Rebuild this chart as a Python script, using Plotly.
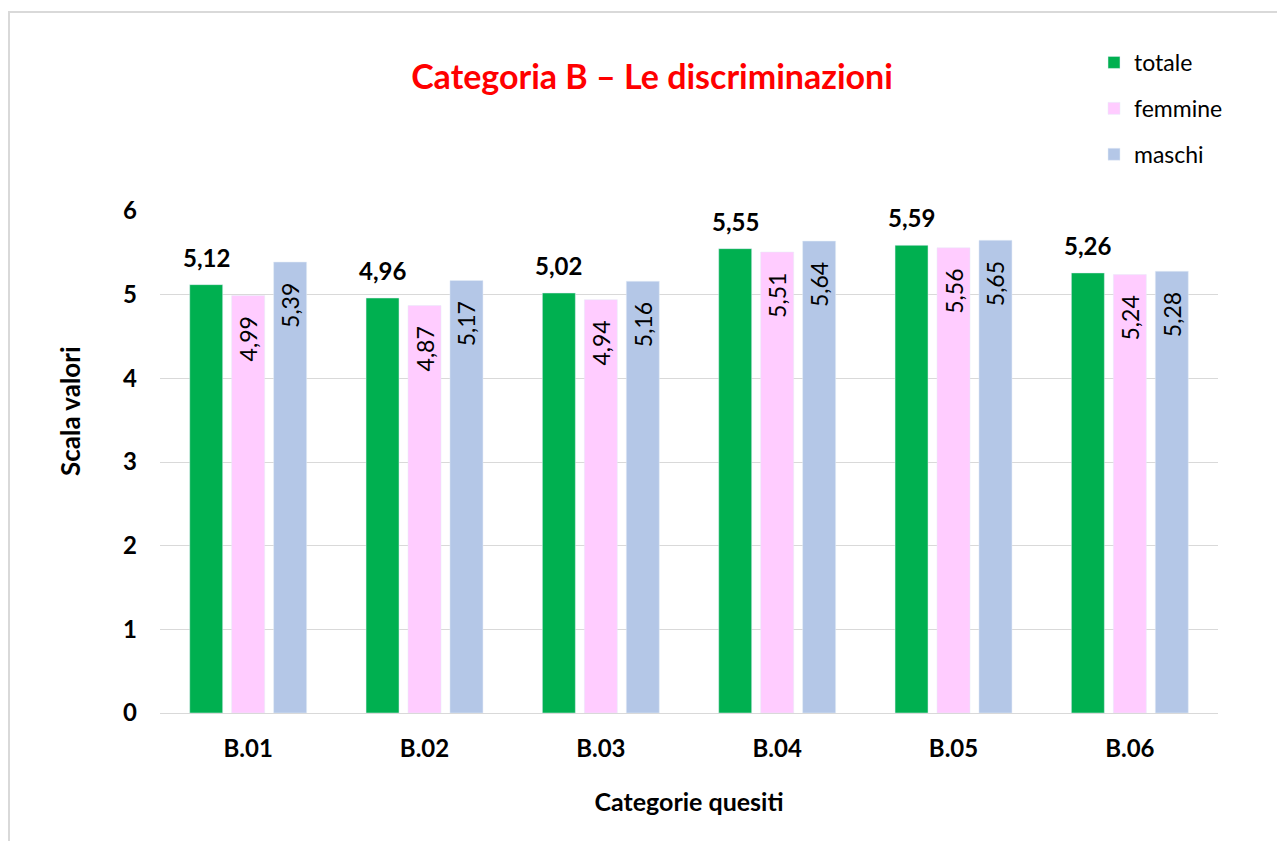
import plotly.graph_objects as go

categories = ["B.01", "B.02", "B.03", "B.04", "B.05", "B.06"]
totale = [5.12, 4.96, 5.02, 5.55, 5.59, 5.26]
femmine = [4.99, 4.87, 4.94, 5.51, 5.56, 5.24]
maschi = [5.39, 5.17, 5.16, 5.64, 5.65, 5.28]

FONT = "Lato, 'Open Sans', sans-serif"
W, H = 1285, 841
OFF = 8  # page body margin
L, R, T, B = 152, 75, 203, 136
pw, ph = W - L - R, H - T - B
PAD = "\u00a0\u00a0\u00a0"

fig = go.Figure()
fig.add_trace(go.Bar(
    x=categories, y=totale, name="totale", marker_color="#00B050",
    legendgroup="a"))
fig.add_trace(go.Bar(
    x=categories, y=femmine, name="femmine", marker_color="#FFCCFF",
    texttemplate="%{y:.2f}" + PAD, textposition="inside", textangle=-90,
    insidetextanchor="end", constraintext="none",
    textfont=dict(size=23, color="black", family=FONT),
    legendgroup="b"))
fig.add_trace(go.Bar(
    x=categories, y=maschi, name="maschi", marker_color="#B4C7E7",
    texttemplate="%{y:.2f}" + PAD, textposition="inside", textangle=-90,
    insidetextanchor="end", constraintext="none",
    textfont=dict(size=23, color="black", family=FONT),
    legendgroup="c"))

# value labels above the "totale" bars
for c, v in zip(categories, totale):
    fig.add_annotation(x=c, y=v, xref="x", yref="y", xshift=-42, yshift=11,
                       text="<b>" + f"{v:.2f}".replace(".", ",") + "</b>",
                       showarrow=False, yanchor="bottom", xanchor="center",
                       font=dict(size=24, color="black", family=FONT))

def px(xp):
    return (xp - OFF - L) / pw

def py(yp):
    return (H - B - (yp - OFF)) / ph

fig.add_shape(type="rect", xref="paper", yref="paper",
              x0=px(9), x1=px(1310), y0=py(870), y1=py(12),
              line=dict(color="#D9D9D9", width=2), fillcolor="rgba(0,0,0,0)", layer="below")

# y-axis title
fig.add_annotation(x=px(70), y=py(411), xref="paper", yref="paper",
                   text="<b>Scala valori</b>", textangle=-90, showarrow=False,
                   xanchor="center", yanchor="middle",
                   font=dict(size=26, color="black", family=FONT))

fig.update_layout(
    width=W, height=H,
    margin=dict(l=L, r=R, t=T, b=B),
    paper_bgcolor="white", plot_bgcolor="white",
    separators=",.",
    font=dict(family=FONT, color="black"),
    barmode="group", bargap=0.286, bargroupgap=0.214,
    title=dict(text="<b>Categoria B – Le discriminazioni</b>", x=px(652), xref="paper",
               xanchor="center", y=1 - (77 - OFF) / H, yanchor="middle",
               font=dict(size=34, color="#FF0000", family=FONT)),
    legend=dict(x=px(1094), y=py(41), xanchor="left", yanchor="top",
                font=dict(size=23, family=FONT), tracegroupgap=13,
                itemwidth=30, bgcolor="rgba(0,0,0,0)"),
    xaxis=dict(title=dict(text="<b>Categorie quesiti</b>", font=dict(size=25), standoff=32),
               tickfont=dict(size=24), tickprefix="<b>", ticksuffix="</b>",
               showline=True, linecolor="#D9D9D9", linewidth=1,
               ticks="", ticklabelstandoff=14),
    yaxis=dict(range=[0, 6], dtick=1, tickfont=dict(size=24),
               tickprefix="<b>", ticksuffix="</b>",
               showgrid=True, gridcolor="#D9D9D9", gridwidth=1,
               zeroline=False, ticks="", ticklabelstandoff=22),
)

fig.write_html("out.html")
